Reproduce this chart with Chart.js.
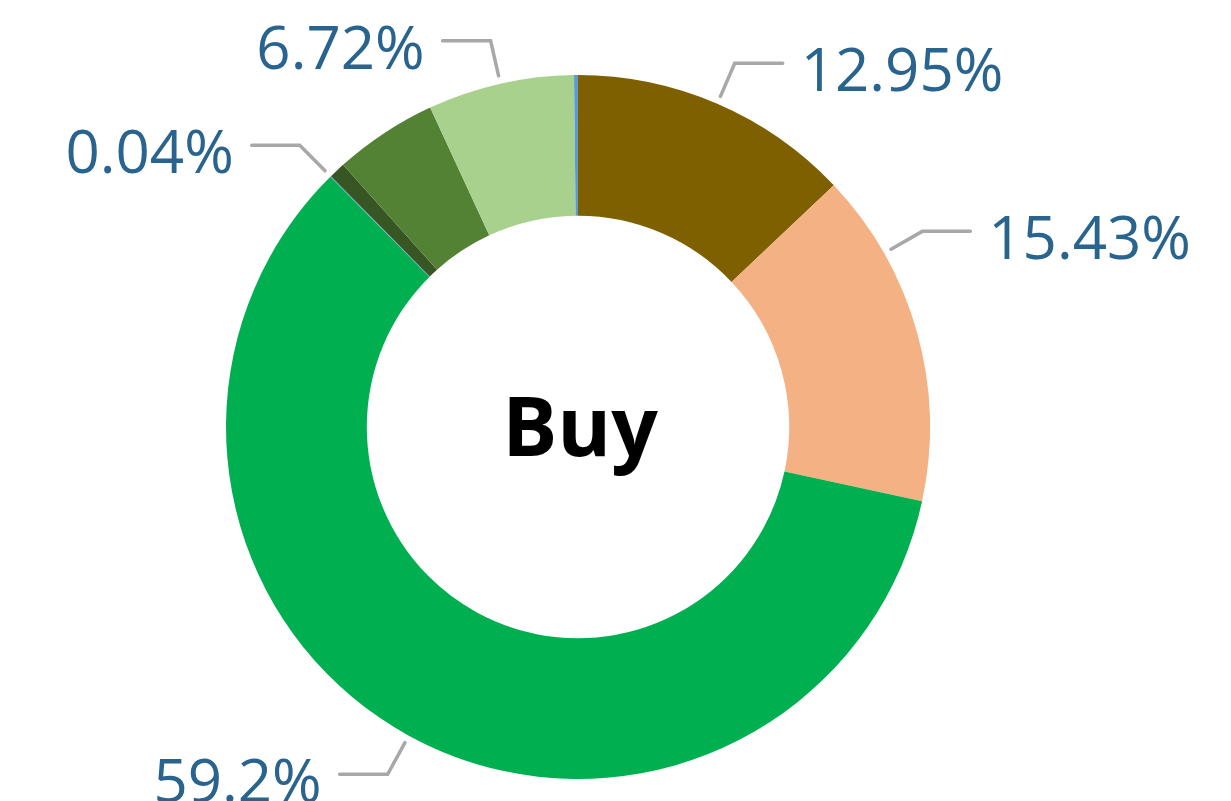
<!DOCTYPE html>
<html>
<head>
<meta charset="utf-8">
<script src="https://cdn.jsdelivr.net/npm/chart.js@4/dist/chart.umd.min.js"></script>
<style>
  html, body { margin: 0; padding: 0; background: #fff; overflow: hidden; }
  #wrap { width: 1231px; height: 801px; }
</style>
</head>
<body>
<div id="wrap"><canvas id="buyChart" width="1231" height="801"></canvas></div>
<script>
// slices, clockwise from 12 o'clock
const sliceNames = ['Slice 1', 'Slice 2', 'Slice 3', 'Slice 4', 'Slice 5', 'Slice 6', 'Slice 7', 'Slice 8'];
const shares = [12.95, 15.43, 59.2, 0.04, 0.75, 4.73, 6.72, 0.18];
const labelTexts = ['12.95%', '15.43%', '59.2%', '0.04%', '', '', '6.72%', ''];
const sliceColors = ['#7F6000', '#F4B183', '#00B050', '#5B9BD5', '#375623', '#548235', '#A9D18E', '#5B9BD5'];
const centerTitle = 'Buy';

// nudge of a label along the ring, degrees (Excel moved the 15.43% one up)
const labelShift = [0, -14, 0, 0, 0, 0, 0, 0];

const leaderLabels = {
  id: 'leaderLabels',
  afterDraw(chart) {
    const ctx = chart.ctx;
    const arcs = chart.getDatasetMeta(0).data;
    ctx.save();
    arcs.forEach((arc, i) => {
      const txt = labelTexts[i];
      if (!txt) return;
      const p = arc.getProps(['x', 'y', 'startAngle', 'endAngle', 'outerRadius'], true);
      const a = (p.startAngle + p.endAngle) / 2 + labelShift[i] * Math.PI / 180;
      const r0 = p.outerRadius + 8;
      const r1 = p.outerRadius + 44;
      const sx = p.x + r0 * Math.cos(a), sy = p.y + r0 * Math.sin(a);
      const ex = p.x + r1 * Math.cos(a), ey = p.y + r1 * Math.sin(a);
      const right = Math.cos(a) >= 0;
      const hx = ex + (right ? 48 : -48);

      ctx.strokeStyle = '#A8A8A8';
      ctx.lineWidth = 3.5;
      ctx.lineCap = 'round';
      ctx.lineJoin = 'miter';
      ctx.beginPath();
      ctx.moveTo(sx, sy);
      ctx.lineTo(ex, ey);
      ctx.lineTo(hx, ey);
      ctx.stroke();

      ctx.fillStyle = '#29648F';
      ctx.font = '60px "Open Sans", "Noto Sans", sans-serif';
      ctx.textBaseline = 'alphabetic';
      ctx.textAlign = right ? 'left' : 'right';
      ctx.fillText(txt, hx + (right ? 18 : -18), ey + 28);
    });

    // centre title
    const c = arcs[0].getProps(['x', 'y'], true);
    ctx.fillStyle = '#000';
    ctx.font = 'bold 82px "Open Sans", "Noto Sans", sans-serif';
    ctx.textAlign = 'center';
    ctx.textBaseline = 'alphabetic';
    ctx.fillText(centerTitle, c.x + 2, c.y + 29);
    ctx.restore();
  }
};

const ctx = document.getElementById('buyChart').getContext('2d');
new Chart(ctx, {
  type: 'doughnut',
  data: {
    labels: sliceNames,
    datasets: [{
      data: shares,
      backgroundColor: sliceColors,
      borderWidth: 0
    }]
  },
  options: {
    responsive: false,
    animation: false,
    cutout: '60%',
    layout: { padding: { left: 226, right: 301, top: 75, bottom: 22 } },
    plugins: {
      legend: { display: false },
      tooltip: { enabled: false }
    }
  },
  plugins: [leaderLabels]
});
</script>
</body>
</html>
